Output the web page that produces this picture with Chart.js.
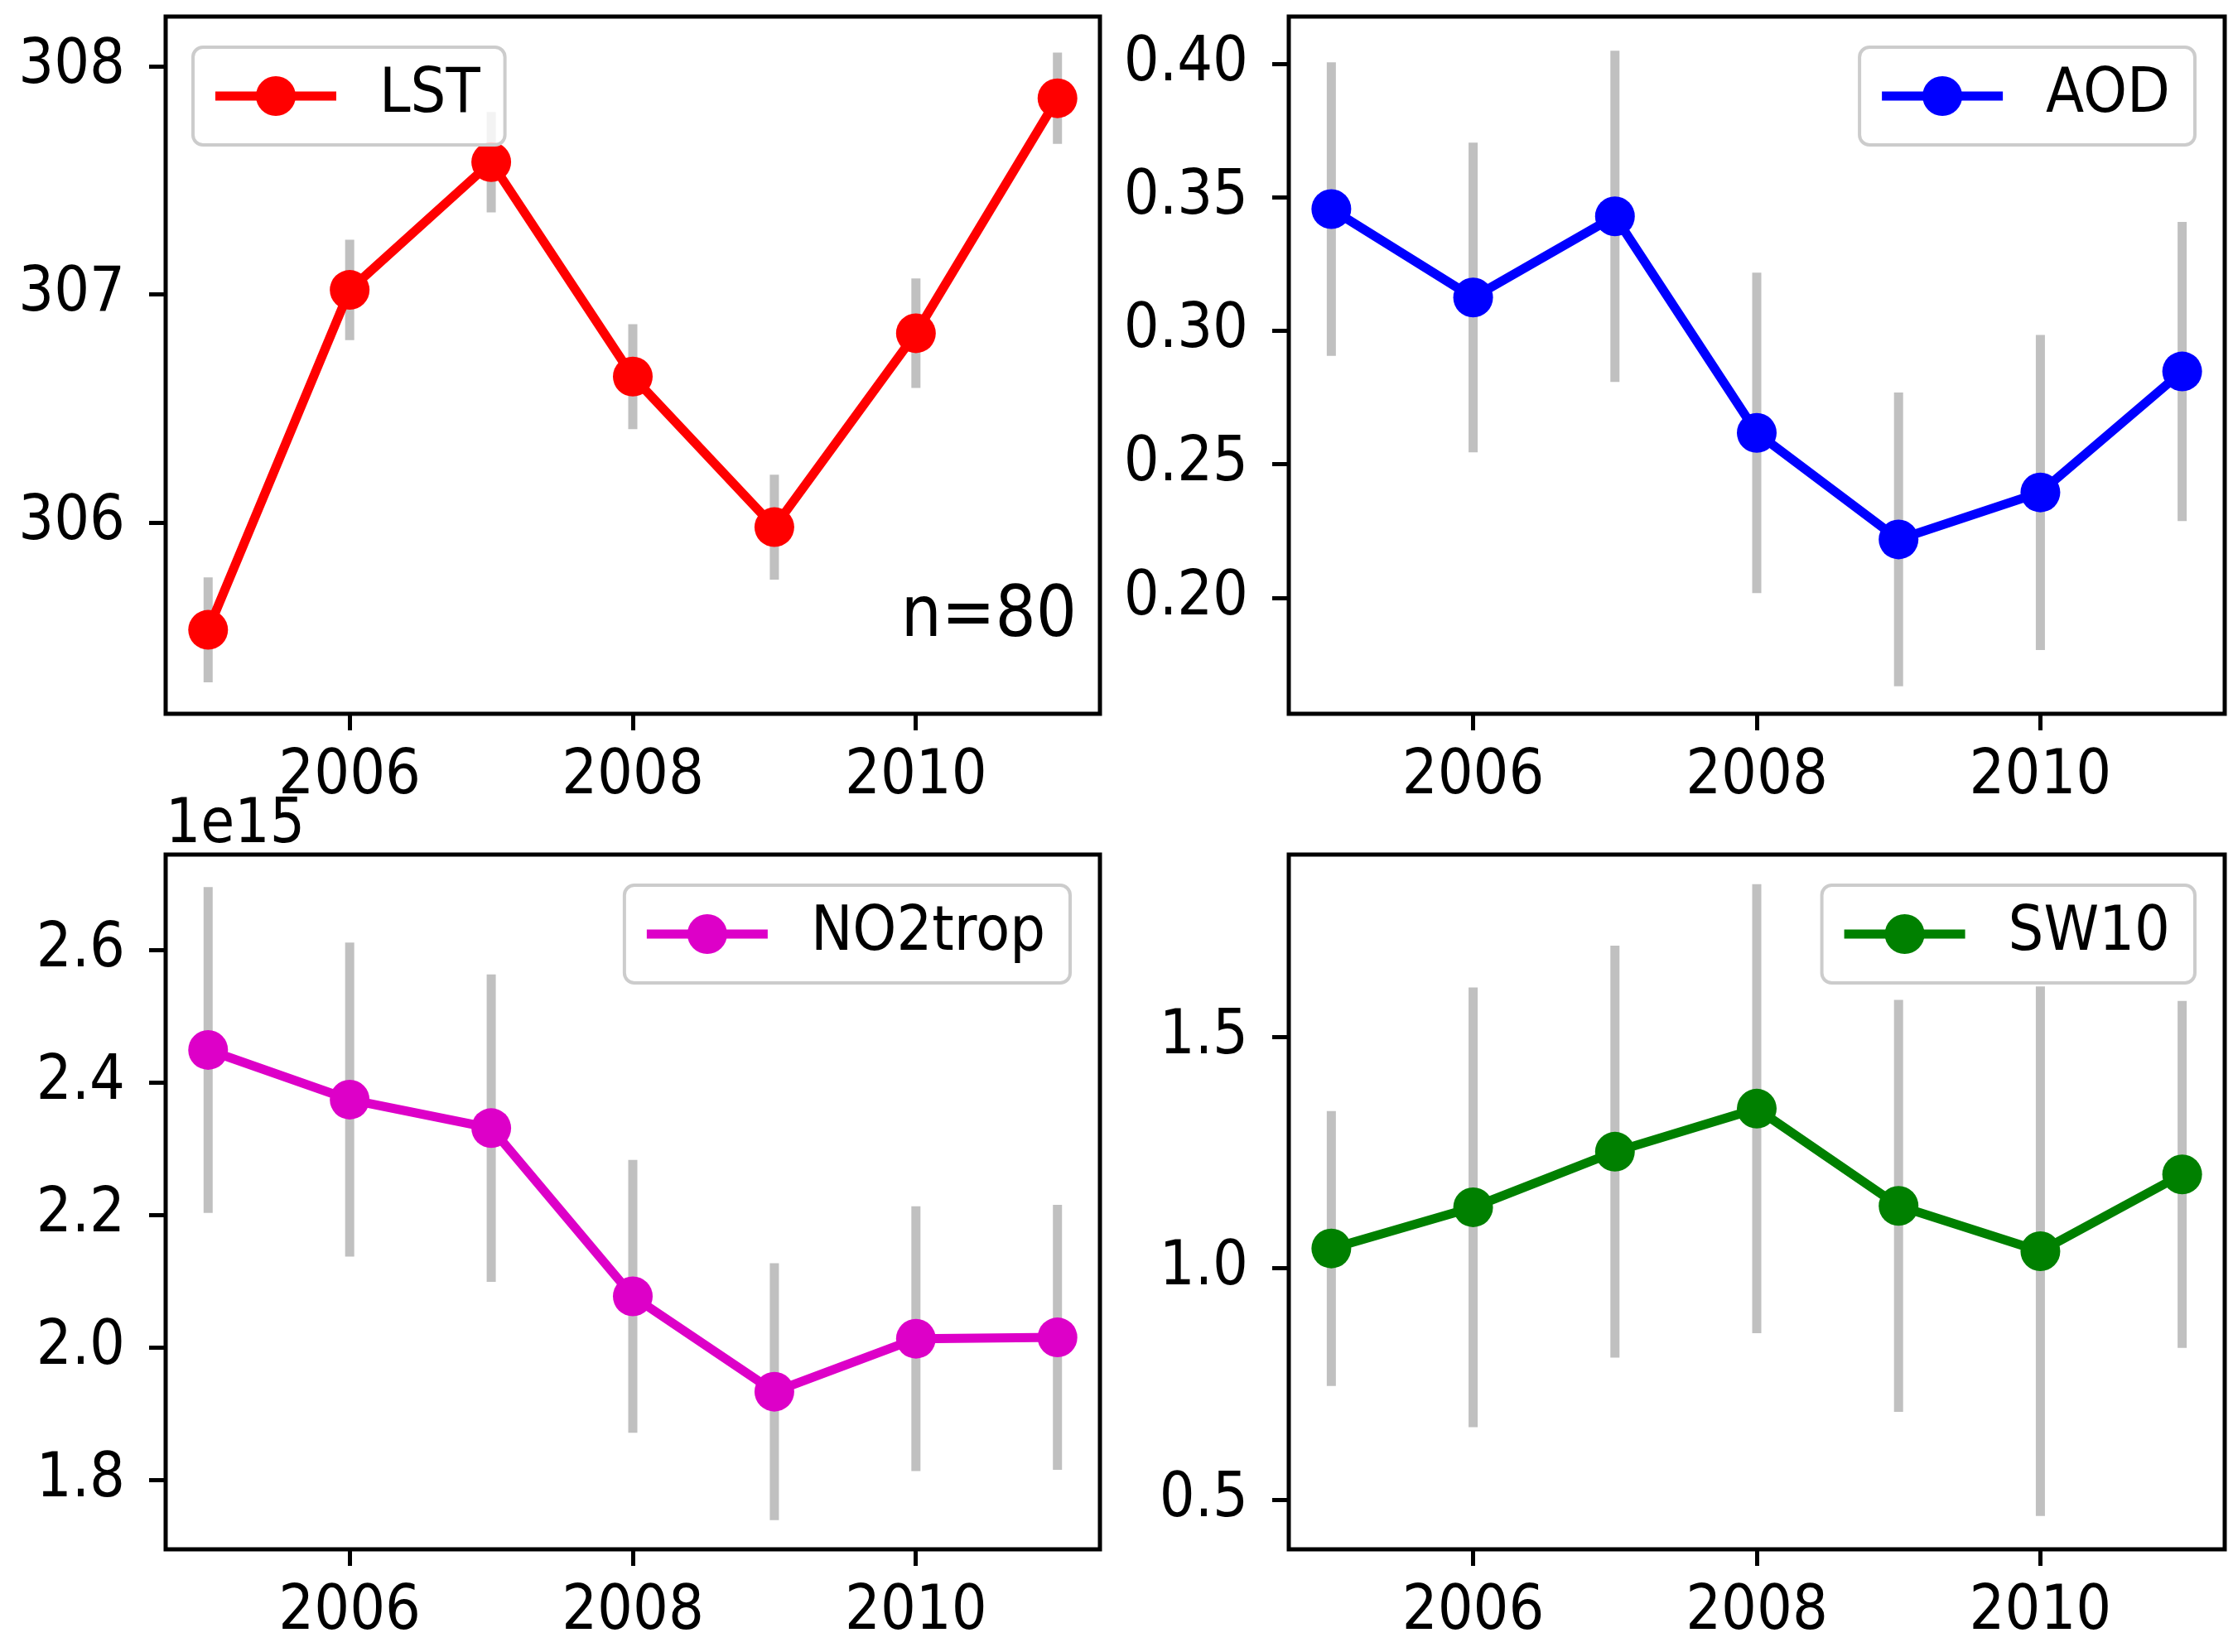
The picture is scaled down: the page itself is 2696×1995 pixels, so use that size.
<!DOCTYPE html>
<html>
<head>
<meta charset="utf-8">
<script src="https://cdn.jsdelivr.net/npm/chart.js@4.4.0/dist/chart.umd.min.js"></script>
<style>
  html, body { margin: 0; padding: 0; background: #fff; }
  body { position: relative; width: 2696px; height: 1995px; overflow: hidden; }
  canvas { position: absolute; }
</style>
</head>
<body>
<canvas id="lstChart"></canvas>
<canvas id="aodChart"></canvas>
<canvas id="no2Chart"></canvas>
<canvas id="swChart"></canvas>
<script>
// data
const years = [2005, 2006, 2007, 2008, 2009, 2010, 2011];
const xTicks = [2006, 2008, 2010];

const lstValues = [305.53, 307.02, 307.58, 306.64, 305.98, 306.83, 307.86];
const lstErrors = [0.23, 0.22, 0.22, 0.23, 0.23, 0.24, 0.20];
const lstTicks = [306, 307, 308];

const aodValues = [0.3456, 0.3125, 0.3429, 0.2618, 0.2219, 0.2395, 0.2848];
const aodErrors = [0.055, 0.058, 0.062, 0.060, 0.055, 0.059, 0.056];
const aodTicks = [0.20, 0.25, 0.30, 0.35, 0.40];

const no2Values = [2.449e15, 2.374e15, 2.331e15, 2.077e15, 1.933e15, 2.013e15, 2.015e15];
const no2Errors = [0.246e15, 0.237e15, 0.232e15, 0.206e15, 0.194e15, 0.200e15, 0.200e15];
const no2Ticks = [1.8e15, 2.0e15, 2.2e15, 2.4e15, 2.6e15];

const swValues = [1.043, 1.132, 1.252, 1.345, 1.135, 1.037, 1.203];
const swErrors = [0.297, 0.475, 0.445, 0.485, 0.445, 0.572, 0.375];
const swTicks = [0.5, 1.0, 1.5];

const FONT = "'DejaVu Sans Condensed', 'DejaVu Sans', sans-serif";

// gray vertical error bars, drawn under the line
const errorBarPlugin = {
  id: 'errorBars',
  beforeDatasetsDraw(chart, args, opts) {
    const { ctx, scales: { x, y } } = chart;
    const points = chart.data.datasets[0].data;
    ctx.save();
    ctx.strokeStyle = '#c0c0c0';
    ctx.lineWidth = 11;
    points.forEach((p, i) => {
      const e = opts.errors[i];
      const px = x.getPixelForValue(p.x);
      ctx.beginPath();
      ctx.moveTo(px, y.getPixelForValue(p.y - e));
      ctx.lineTo(px, y.getPixelForValue(p.y + e));
      ctx.stroke();
    });
    ctx.restore();
  }
};

// axes frame, matplotlib-like legend and extra texts
const panelDecorPlugin = {
  id: 'panelDecor',
  afterDraw(chart, args, o) {
    const { ctx, chartArea: a } = chart;
    ctx.save();
    ctx.strokeStyle = '#000';
    ctx.lineWidth = 5;
    ctx.strokeRect(a.left, a.top, a.right - a.left, a.bottom - a.top);

    // legend
    ctx.font = '75px ' + FONT;
    const tw = ctx.measureText(o.label).width;
    const boxW = 27 + 146 + 52 + tw + 30;
    const boxH = 118;
    const bx = o.legendSide === 'left' ? a.left + 33 : a.right - 36 - boxW;
    const by = a.top + 37;
    ctx.beginPath();
    ctx.roundRect(bx, by, boxW, boxH, 12);
    ctx.fillStyle = 'rgba(255,255,255,0.8)';
    ctx.fill();
    ctx.strokeStyle = '#cccccc';
    ctx.lineWidth = 4;
    ctx.stroke();

    const cy = by + 59;
    ctx.strokeStyle = o.color;
    ctx.lineWidth = 11;
    ctx.beginPath();
    ctx.moveTo(bx + 27, cy);
    ctx.lineTo(bx + 173, cy);
    ctx.stroke();
    ctx.fillStyle = o.color;
    ctx.beginPath();
    ctx.arc(bx + 100, cy, 24, 0, Math.PI * 2);
    ctx.fill();

    ctx.fillStyle = '#000';
    ctx.textAlign = 'left';
    ctx.textBaseline = 'middle';
    ctx.fillText(o.label, bx + 225, cy);

    if (o.note) {
      ctx.font = '86px ' + FONT;
      ctx.textAlign = 'right';
      ctx.textBaseline = 'alphabetic';
      ctx.fillText(o.note, a.right - 28, a.bottom - 94);
    }
    if (o.offsetText) {
      ctx.font = '74px ' + FONT;
      ctx.textAlign = 'left';
      ctx.textBaseline = 'alphabetic';
      ctx.fillText(o.offsetText, a.left, a.top - 15);
    }
    ctx.restore();
  }
};

function makePanel(id, box, area, cfg) {
  const canvas = document.getElementById(id);
  canvas.width = box.width;
  canvas.height = box.height;
  canvas.style.left = box.left + 'px';
  canvas.style.top = box.top + 'px';
  canvas.style.width = box.width + 'px';
  canvas.style.height = box.height + 'px';

  const tickFont = { family: FONT, size: 75 };
  const tickGrid = { drawOnChartArea: false, drawTicks: true, tickLength: 20, tickWidth: 5, tickColor: '#000' };

  new Chart(canvas, {
    type: 'line',
    data: {
      datasets: [{
        label: cfg.label,
        data: years.map((yr, i) => ({ x: yr, y: cfg.values[i] })),
        borderColor: cfg.color,
        backgroundColor: cfg.color,
        borderWidth: 11,
        pointRadius: 24,
        pointHoverRadius: 24,
        pointBorderWidth: 0,
        pointBackgroundColor: cfg.color,
        tension: 0,
        clip: false
      }]
    },
    options: {
      responsive: false,
      animation: false,
      devicePixelRatio: 1,
      events: [],
      layout: {
        autoPadding: false,
        padding: {
          left: 0,
          top: area.top - box.top,
          right: box.left + box.width - area.right,
          bottom: 0
        }
      },
      plugins: {
        legend: { display: false },
        tooltip: { enabled: false },
        errorBars: { errors: cfg.errors },
        panelDecor: {
          label: cfg.label,
          color: cfg.color,
          legendSide: cfg.legendSide,
          note: cfg.note,
          offsetText: cfg.offsetText
        }
      },
      scales: {
        x: {
          type: 'linear',
          min: 2004.7,
          max: 2011.3,
          afterBuildTicks: (s) => { s.ticks = xTicks.map(v => ({ value: v })); },
          afterFit: (s) => {
            s.height = box.top + box.height - area.bottom;
            s.paddingLeft = 0;
            s.paddingRight = 0;
          },
          grid: tickGrid,
          border: { display: false },
          ticks: {
            font: tickFont,
            color: '#000',
            padding: 12,
            maxRotation: 0,
            autoSkip: false,
            callback: (v) => String(v)
          }
        },
        y: {
          type: 'linear',
          min: cfg.yMin,
          max: cfg.yMax,
          afterBuildTicks: (s) => { s.ticks = cfg.ticks.map(v => ({ value: v })); },
          afterFit: (s) => {
            s.width = area.left - box.left;
            s.paddingTop = 0;
            s.paddingBottom = 0;
          },
          grid: tickGrid,
          border: { display: false },
          ticks: {
            font: tickFont,
            color: '#000',
            padding: 29,
            autoSkip: false,
            callback: cfg.fmt
          }
        }
      }
    },
    plugins: [errorBarPlugin, panelDecorPlugin]
  });
}

makePanel('lstChart',
  { left: 0, top: 0, width: 1348, height: 997 },
  { left: 200, top: 20, right: 1328, bottom: 862 },
  { label: 'LST', color: '#ff0000', values: lstValues, errors: lstErrors, ticks: lstTicks,
    yMin: 305.162, yMax: 308.218, fmt: (v) => v.toFixed(0), legendSide: 'left', note: 'n=80' });

makePanel('aodChart',
  { left: 1348, top: 0, width: 1348, height: 997 },
  { left: 1556, top: 20, right: 2686, bottom: 862 },
  { label: 'AOD', color: '#0000ff', values: aodValues, errors: aodErrors, ticks: aodTicks,
    yMin: 0.1566, yMax: 0.4177, fmt: (v) => v.toFixed(2), legendSide: 'right' });

makePanel('no2Chart',
  { left: 0, top: 930, width: 1348, height: 1065 },
  { left: 200, top: 1032, right: 1328, bottom: 1871 },
  { label: 'NO2trop', color: '#dd00c8', values: no2Values, errors: no2Errors, ticks: no2Ticks,
    yMin: 1.695e15, yMax: 2.744e15, fmt: (v) => (v / 1e15).toFixed(1), legendSide: 'right', offsetText: '1e15' });

makePanel('swChart',
  { left: 1348, top: 930, width: 1348, height: 1065 },
  { left: 1556, top: 1032, right: 2686, bottom: 1871 },
  { label: 'SW10', color: '#008000', values: swValues, errors: swErrors, ticks: swTicks,
    yMin: 0.393, yMax: 1.894, fmt: (v) => v.toFixed(1), legendSide: 'right' });
</script>
</body>
</html>
